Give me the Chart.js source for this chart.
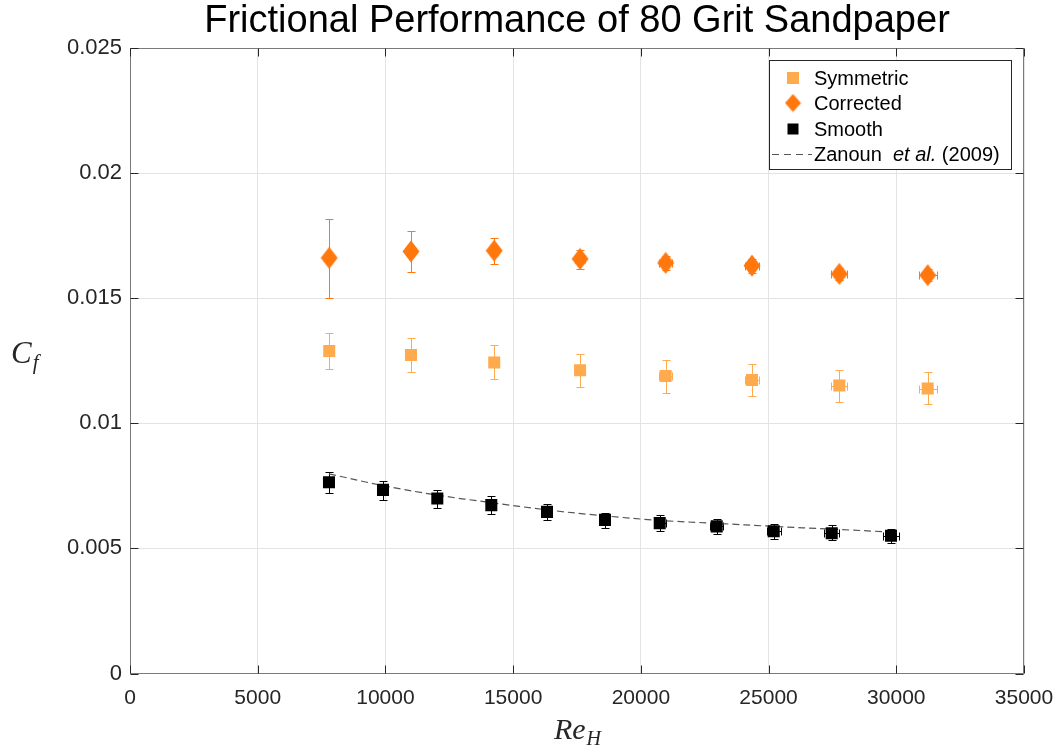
<!DOCTYPE html>
<html>
<head>
<meta charset="utf-8">
<script src="https://cdn.jsdelivr.net/npm/chart.js@4.4.1/dist/chart.umd.min.js"></script>
<style>
  html, body { margin: 0; padding: 0; background: #fff; }
  #wrap { width: 1062px; height: 749px; position: relative; }
</style>
</head>
<body>
<div id="wrap"><canvas id="c"></canvas></div>
<script>
// Re_H positions of the rough-wall runs (Symmetric and Corrected share them)
const reRough = [7800, 11000, 14260, 17620, 20970, 24350, 27770, 31230];
const roughXErr = [90, 130, 165, 205, 245, 285, 320, 345];

// Symmetric C_f with error bar ends
const cfSymmetric = [0.01289, 0.01273, 0.01243, 0.01212, 0.01189, 0.01173, 0.01151, 0.01139];
const symLow  = [0.01219, 0.01204, 0.01176, 0.01147, 0.01123, 0.01108, 0.01086, 0.01078];
const symHigh = [0.01361, 0.01342, 0.01312, 0.01277, 0.01253, 0.01239, 0.01212, 0.01204];

// Corrected C_f with error bar ends
const cfCorrected = [0.01661, 0.01687, 0.01690, 0.01657, 0.01641, 0.01630, 0.01597, 0.01592];
const corrLow  = [0.01502, 0.01606, 0.01637, 0.01617, 0.01612, 0.01602, 0.01572, 0.01568];
const corrHigh = [0.01817, 0.01767, 0.01739, 0.01694, 0.01670, 0.01658, 0.01622, 0.01616];

// Smooth wall
const reSmooth = [7790, 9905, 12031, 14145, 16326, 18596, 20738, 22969, 25201, 27472, 29793];
const smoothXErr = [90, 115, 140, 165, 190, 215, 240, 255, 274, 294, 326];
const cfSmooth = [0.007645, 0.007339, 0.006992, 0.00673, 0.00646, 0.00614, 0.00601, 0.00588, 0.00569, 0.00561, 0.00551];
const smoothLow  = [0.007219, 0.006952, 0.00661, 0.00638, 0.00612, 0.00581, 0.00571, 0.00559, 0.00539, 0.00532, 0.00523];
const smoothHigh = [0.008056, 0.00771, 0.00735, 0.0071, 0.00679, 0.00643, 0.00633, 0.00617, 0.00597, 0.00592, 0.00579];

// Zanoun et al. (2009) curve
const reZanoun = [7790, 9905, 12031, 14145, 16326, 18596, 20738, 22969, 25201, 27472, 29900];
const cfZanoun = [0.00798, 0.00751, 0.00713, 0.00683, 0.00654, 0.00630, 0.00612, 0.00600, 0.00588, 0.00577, 0.00565];

const yTickLabels = ['0', '0.005', '0.01', '0.015', '0.02', '0.025'];

const colSym = '#FFAA4D';
const colCorr = '#FF770D';
const colSmooth = '#000000';
const sans = "'Liberation Sans', Arial, Helvetica, sans-serif";
const serif = "'Liberation Serif', 'Times New Roman', serif";

// diamond marker (taller than wide, like MATLAB's 'd')
function makeDiamond(w, h, color) {
  const cv = document.createElement('canvas');
  cv.width = w; cv.height = h;
  const g = cv.getContext('2d');
  g.fillStyle = color;
  g.beginPath();
  g.moveTo(w / 2, 0.5);
  g.lineTo(w - 0.5, h / 2);
  g.lineTo(w / 2, h - 0.5);
  g.lineTo(0.5, h / 2);
  g.closePath();
  g.fill();
  return cv;
}
const diamond = makeDiamond(18, 23, colCorr);
const diamondSmall = makeDiamond(17, 19, colCorr);

const toPts = (xs, ys) => xs.map((x, i) => ({ x, y: ys[i] }));

// error bars drawn under the markers
const errorBarPlugin = {
  id: 'errorBars',
  beforeDatasetsDraw(chart) {
    const { ctx } = chart;
    const xs = chart.scales.x, ys = chart.scales.y;
    const cap = 4;
    chart.data.datasets.forEach((ds) => {
      const eb = ds.errorBars;
      if (!eb) return;
      ctx.save();
      ctx.strokeStyle = ds.borderColor;
      ctx.lineWidth = 1;
      ctx.beginPath();
      ds.data.forEach((p, j) => {
        const px = Math.round(xs.getPixelForValue(p.x)) + 0.5;
        const py = Math.round(ys.getPixelForValue(p.y)) + 0.5;
        const yl = Math.round(ys.getPixelForValue(eb.low[j])) + 0.5;
        const yh = Math.round(ys.getPixelForValue(eb.high[j])) + 0.5;
        ctx.moveTo(px, yl); ctx.lineTo(px, yh);
        ctx.moveTo(px - cap, yl); ctx.lineTo(px + cap, yl);
        ctx.moveTo(px - cap, yh); ctx.lineTo(px + cap, yh);
        const xl = Math.round(xs.getPixelForValue(p.x - eb.xErr[j])) + 0.5;
        const xh = Math.round(xs.getPixelForValue(p.x + eb.xErr[j])) + 0.5;
        ctx.moveTo(xl, py); ctx.lineTo(xh, py);
        ctx.moveTo(xl, py - cap); ctx.lineTo(xl, py + cap);
        ctx.moveTo(xh, py - cap); ctx.lineTo(xh, py + cap);
      });
      ctx.stroke();
      ctx.restore();
    });
  }
};

// MATLAB-like box with inward ticks, axis titles and the legend
const framePlugin = {
  id: 'frame',
  afterDraw(chart) {
    const { ctx, chartArea: a } = chart;
    const xs = chart.scales.x, ys = chart.scales.y;
    const L = Math.round(a.left) + 0.5, R = Math.round(a.right) - 0.5;
    const T = Math.round(a.top) + 0.5, B = Math.round(a.bottom) - 0.5;
    ctx.save();
    ctx.strokeStyle = '#7a7a7a';
    ctx.lineWidth = 1;
    ctx.strokeRect(L, T, R - L, B - T);

    ctx.strokeStyle = '#262626';
    ctx.beginPath();
    const tl = 8;
    xs.ticks.forEach((t) => {
      const px = Math.round(xs.getPixelForValue(t.value)) + 0.5;
      ctx.moveTo(px, B); ctx.lineTo(px, B - tl);
      ctx.moveTo(px, T); ctx.lineTo(px, T + tl);
    });
    ys.ticks.forEach((t) => {
      const py = Math.round(ys.getPixelForValue(t.value)) + 0.5;
      ctx.moveTo(L, py); ctx.lineTo(L + tl, py);
      ctx.moveTo(R, py); ctx.lineTo(R - tl, py);
    });
    ctx.stroke();

    // axis titles
    ctx.fillStyle = '#262626';
    ctx.textBaseline = 'alphabetic';
    ctx.textAlign = 'left';
    ctx.font = 'italic 31px ' + serif;
    ctx.fillText('C', 11, 363);
    const cw = ctx.measureText('C').width;
    ctx.font = 'italic 21px ' + serif;
    ctx.fillText('f', 11 + cw + 1, 369);

    ctx.font = 'italic 30px ' + serif;
    const rw = ctx.measureText('Re').width;
    ctx.font = 'italic 20px ' + serif;
    const hw = ctx.measureText('H').width;
    const x0 = (a.left + a.right) / 2 - (rw + hw) / 2;
    ctx.font = 'italic 30px ' + serif;
    ctx.fillText('Re', x0, 739);
    ctx.font = 'italic 20px ' + serif;
    ctx.fillText('H', x0 + rw + 1, 745);

    // legend
    const bx = 769.5, by = 60.5, bw = 242, bh = 109;
    ctx.fillStyle = '#fff';
    ctx.fillRect(bx, by, bw, bh);
    ctx.strokeStyle = '#262626';
    ctx.strokeRect(bx, by, bw, bh);
    const ds = chart.data.datasets;
    const rows = [78, 103, 129, 154];
    const mx = 793, tx = 814;
    ctx.font = '20px ' + sans;
    ctx.textBaseline = 'middle';
    ds.forEach((d, i) => {
      const yy = rows[i];
      if (d.legendMarker === 'square') {
        ctx.fillStyle = d.backgroundColor;
        const s = d.legendSize;
        ctx.fillRect(mx - s / 2, yy - s / 2, s, s);
      } else if (d.legendMarker === 'diamond') {
        ctx.drawImage(diamondSmall, mx - 8.5, yy - 9.5);
      } else {
        ctx.strokeStyle = d.borderColor;
        ctx.lineWidth = 1.2;
        ctx.setLineDash([7, 5]);
        ctx.beginPath();
        ctx.moveTo(772, yy + 0.5); ctx.lineTo(812, yy + 0.5);
        ctx.stroke();
        ctx.setLineDash([]);
      }
      ctx.fillStyle = '#000';
      if (d.legendParts) {
        let cx = tx;
        d.legendParts.forEach(([txt, style]) => {
          ctx.font = (style === 'i' ? 'italic ' : '') + '20px ' + sans;
          ctx.fillText(txt, cx, yy + 1);
          cx += ctx.measureText(txt).width;
        });
      } else {
        ctx.font = '20px ' + sans;
        ctx.fillText(d.label, tx, yy + 1);
      }
    });
    ctx.restore();
  }
};

new Chart(document.getElementById('c'), {
  type: 'scatter',
  data: {
    datasets: [
      {
        label: 'Symmetric',
        data: toPts(reRough, cfSymmetric),
        pointStyle: 'rect',
        pointRadius: 8.5,
        backgroundColor: colSym,
        borderColor: colSym,
        borderWidth: 0,
        errorBars: { low: symLow, high: symHigh, xErr: roughXErr },
        legendMarker: 'square',
        legendSize: 12,
      },
      {
        label: 'Corrected',
        data: toPts(reRough, cfCorrected),
        pointStyle: diamond,
        backgroundColor: colCorr,
        borderColor: colCorr,
        errorBars: { low: corrLow, high: corrHigh, xErr: roughXErr },
        legendMarker: 'diamond',
      },
      {
        label: 'Smooth',
        data: toPts(reSmooth, cfSmooth),
        pointStyle: 'rect',
        pointRadius: 8.5,
        backgroundColor: colSmooth,
        borderColor: colSmooth,
        borderWidth: 0,
        errorBars: { low: smoothLow, high: smoothHigh, xErr: smoothXErr },
        legendMarker: 'square',
        legendSize: 11,
      },
      {
        type: 'line',
        label: 'Zanoun et al. (2009)',
        legendParts: [['Zanoun  ', ''], ['et al.', 'i'], [' (2009)', '']],
        data: toPts(reZanoun, cfZanoun),
        borderColor: '#555555',
        borderWidth: 1.2,
        borderDash: [7, 4],
        pointRadius: 0,
        tension: 0.4,
        fill: false,
        legendMarker: 'line',
      },
    ],
  },
  options: {
    responsive: true,
    maintainAspectRatio: false,
    animation: false,
    events: [],
    layout: { padding: { left: 0, right: 38, top: 0, bottom: 0 } },
    plugins: {
      legend: { display: false },
      tooltip: { enabled: false },
      title: {
        display: true,
        fullSize: false,
        text: 'Frictional Performance of 80 Grit Sandpaper',
        color: '#000',
        font: { family: sans, size: 38, weight: 'normal', lineHeight: 1.0 },
        padding: { top: 3, bottom: 7 },
      },
    },
    scales: {
      x: {
        type: 'linear',
        min: 0,
        max: 35000,
        afterFit: (s) => { s.height = 75.5; s.paddingRight = 0; s.paddingLeft = 0; },
        grid: { color: '#e3e3e3', drawTicks: false },
        border: { display: false },
        ticks: {
          stepSize: 5000,
          padding: 12,
          color: '#262626',
          font: { family: sans, size: 21 },
          callback: (v) => String(v),
        },
      },
      y: {
        type: 'linear',
        min: 0,
        max: 0.025,
        afterFit: (s) => { s.width = 130; },
        grid: { color: '#e3e3e3', drawTicks: false },
        border: { display: false },
        ticks: {
          stepSize: 0.005,
          padding: 8,
          color: '#262626',
          font: { family: sans, size: 22 },
          callback: (v, i) => yTickLabels[i],
        },
      },
    },
  },
  plugins: [errorBarPlugin, framePlugin],
});
</script>
</body>
</html>
